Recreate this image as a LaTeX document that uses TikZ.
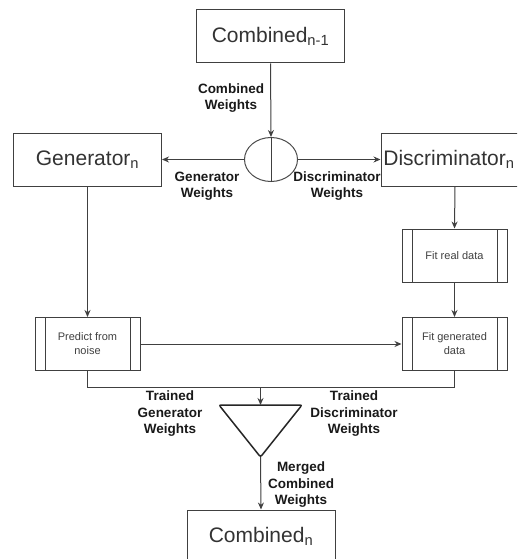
\documentclass[tikz,border=0pt]{standalone}
\usepackage{fontspec}
\setmainfont{Liberation Sans}
\usepackage{tikz}
\usetikzlibrary{shapes,arrows.meta,positioning}

\begin{document}
\begin{tikzpicture}[x=1pt, y=-1pt]
			\tikzstyle{Box}		= [rectangle, draw=black!75, line width=1pt, fill=white, minimum width=148pt, minimum height=53pt, inner sep=0pt, text=black!80, font=\fontsize{21}{24}\selectfont]
			\tikzstyle{Process}	= [rectangle, draw=black!75, line width=1pt, minimum width=105pt, minimum height=53pt, inner sep=0pt, align=center, text=black!75, font=\fontsize{11}{14}\selectfont,
				path picture={\draw [black!75, line width=1pt] ([xshift=10pt]path picture bounding box.north west) -- ([xshift=10pt]path picture bounding box.south west)
					([xshift=-10pt]path picture bounding box.north east) -- ([xshift=-10pt]path picture bounding box.south east);}]
			\tikzstyle{Mixer}	= [ellipse, draw=black!70, line width=1pt, minimum width=53pt, minimum height=44pt, inner sep=0pt]
			\tikzstyle{Label}	= [align=center, inner sep=0pt, text=black!90, font=\fontsize{13.5}{16.5}\selectfont\bfseries]
			\tikzstyle{Link}	= [draw=black!75, line width=1pt]
			\tikzstyle{Arrow}	= [draw=black!75, line width=1pt, -{Stealth[length=7pt, width=6pt]}]

			\clip (0,0) rectangle (517,559);
			\fill [white] (0,0) rectangle (517,559);

			\node (cprev) at (270.5, 36.5) [Box] {Combined\textsubscript{n-1}};
			\node (mix) at (271, 159.5) [Mixer] {};
			\node (gen) at (87.5, 159.5) [Box] {Generator\textsubscript{n}};
			\node (disc) at (455, 159.5) [Box] {Discriminator\textsubscript{n}\hspace*{12pt}};
			\node (freal) at (454.5, 255.5) [Process] {Fit real data};
			\node (pnoise) at (87.5, 344) [Process] {Predict from\\noise};
			\node (fitgen) at (454.5, 344) [Process] {Fit generated\\data};
			\node (cnew) at (261, 536.5) [Box] {Combined\textsubscript{n}};

			% merge triangle
			\coordinate (tl) at (219, 405);
			\coordinate (tr) at (302, 405);
			\coordinate (tb) at (260.5, 457);
			\coordinate (tt) at (260.5, 405);
			\coordinate (jn) at (260.5, 387);
			\draw [Link, line width=1.5pt, draw=black!85, rounded corners=2pt] (tl) -- (tr) -- (tb) -- cycle;

			\node (lcw) at (231, 98) [Label] {Combined\\Weights};
			\node (lgw) at (207, 186) [Label] {Generator\\Weights};
			\node (ldw) at (337, 186) [Label] {Discriminator\\Weights};
			\node (ltg) at (170, 414) [Label] {Trained\\Generator\\Weights};
			\node (ltd) at (354, 414) [Label] {Trained\\Discriminator\\Weights};
			\node (lmc) at (301, 485) [Label] {Merged\\Combined\\Weights};

			\draw [Arrow] (cprev.south) to (mix.north);
			\draw [Link] (mix.north) to (mix.south);
			\draw [Arrow] (mix.west) to (gen.east);
			\draw [Arrow] (mix.east) to (disc.west);
			\draw [Arrow] (gen.south) to (pnoise.north);
			\draw [Arrow] (disc.south) to (freal.north);
			\draw [Arrow] (freal.south) to (fitgen.north);
			\draw [Arrow] (pnoise.east) to (fitgen.west);
			\draw [Link] (pnoise.south) |- (jn);
			\draw [Link] (fitgen.south) |- (jn);
			\draw [Arrow] (jn) to (tt);
			\draw [Arrow] (tb) to (cnew.north);
		\end{tikzpicture}
\end{document}
